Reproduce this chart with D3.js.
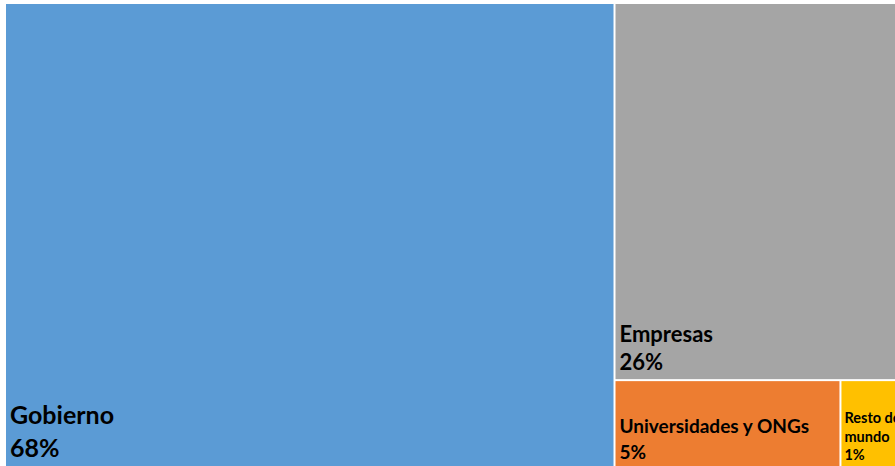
<!DOCTYPE html>
<html>
<head>
<meta charset="utf-8">
<script src="https://cdn.jsdelivr.net/npm/d3@7"></script>
<style>
  html, body { margin: 0; padding: 0; background: #ffffff; }
  svg { display: block; }
</style>
</head>
<body>
<svg id="chart" width="895" height="466"></svg>
<script>
// Financiación por sector (porcentaje del total)
const categories = ["Gobierno", "Empresas", "Universidades y ONGs", "Resto del mundo"];
const values = [67.9, 26.1, 4.8, 1.35];
const colors = ["#5B9BD5", "#A5A5A5", "#ED7D31", "#FFC000"];
// Líneas de cada etiqueta (el último tramo es el porcentaje)
const labelLines = [["Gobierno"], ["Empresas"], ["Universidades y ONGs"], ["Resto del", "mundo"]];
const fontSizes = [25, 22, 19, 14.5];
const lineHeights = [33, 28, 26, 18.5];
const bottomGaps = [9, 9, 7, 6];

const svg = d3.select("#chart");
const total = d3.sum(values);
const pct = d3.format(".0%");

const root = d3.hierarchy({
  children: categories.map((name, i) => ({ name, value: values[i], i }))
}).sum(d => d.value || 0);

const ox = 6, oy = 4;
d3.treemap()
  .tile(d3.treemapBinary)
  .paddingInner(2)
  .size([897, 464])(root);

const plot = svg.append("g").attr("transform", `translate(${ox},${oy})`);

const leaves = plot.selectAll("g.tile")
  .data(root.leaves())
  .join("g")
  .attr("class", "tile");

leaves.append("rect")
  .attr("x", d => d.x0)
  .attr("y", d => d.y0)
  .attr("width", d => d.x1 - d.x0)
  .attr("height", d => d.y1 - d.y0)
  .attr("fill", d => colors[d.data.i]);

leaves.each(function(d) {
  const i = d.data.i;
  const lines = labelLines[i].concat([pct(d.data.value / total)]);
  const lh = lineHeights[i];
  const baseY = Math.min(d.y1, 466 - oy) - bottomGaps[i];
  const t = d3.select(this).append("text")
    .attr("font-family", "Lato, 'Open Sans', sans-serif")
    .attr("font-weight", "bold")
    .attr("font-size", fontSizes[i])
    .attr("fill", "#000000");
  lines.forEach((ln, k) => {
    t.append("tspan")
      .attr("x", d.x0 + (i === 3 ? 3 : 4))
      .attr("y", baseY - (lines.length - 1 - k) * lh)
      .text(ln);
  });
});
</script>
</body>
</html>
